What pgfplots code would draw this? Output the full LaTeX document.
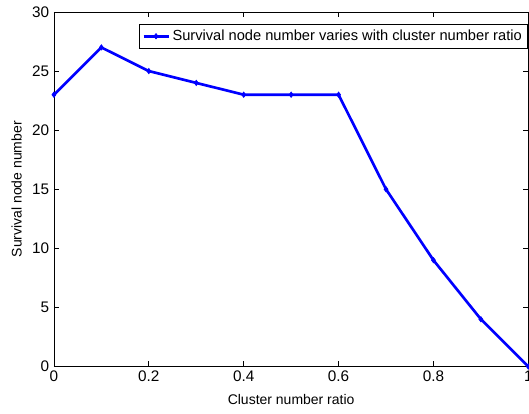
\documentclass[border=0pt]{standalone}
\usepackage{pgfplots}
\pgfplotsset{compat=1.18}
\usepackage{fontspec}
\setmainfont{Liberation Sans}
\usetikzlibrary{calc}
\begin{document}
\begin{tikzpicture}
\begin{axis}[
    scale only axis,
    width=356.25pt, height=266.25pt,
    xmin=0, xmax=1, ymin=0, ymax=30,
    xtick={0,0.2,0.4,0.6,0.8,1},
    xticklabels={0,0.2,0.4,0.6,0.8,1},
    ytick={0,5,10,15,20,25,30},
    tick align=inside,
    major tick length=4pt,
    tick style={black, line width=0.5pt},
    axis line style={line width=0.6pt},
    ticklabel style={font=\fontsize{11.5}{12}\selectfont},
    /pgf/number format/assume math mode=true,
    xlabel={Cluster number ratio},
    ylabel={Survival node number},
    label style={font=\fontsize{10.5}{12}\selectfont},
    xlabel style={yshift=-2pt},
    ylabel style={yshift=1pt},
    legend style={at={(0.998,0.965)}, anchor=north east, draw=black,
        font=\fontsize{11}{12}\selectfont, inner sep=2pt, row sep=0pt,
        cells={anchor=west}, /tikz/every even column/.append style={column sep=2pt}},
    legend image post style={xscale=1.1},
    legend cell align=left,
]
\addplot[blue, line width=2pt, mark=diamond*, mark size=2pt, mark options={solid, line width=0.5pt}]
coordinates {
(0,23) (0.1,27) (0.2,25) (0.3,24) (0.4,23) (0.5,23) (0.6,23)
(0.7,15) (0.8,9) (0.9,4) (1,0)
};
\addlegendentry{Survival node number varies with cluster number ratio}
\end{axis}
\pgfresetboundingbox
\path[use as bounding box] ($(current axis.south west)+(-40.5pt,-35.25pt)$) rectangle ($(current axis.north east)+(0.5pt,9pt)$);
\end{tikzpicture}
\end{document}
